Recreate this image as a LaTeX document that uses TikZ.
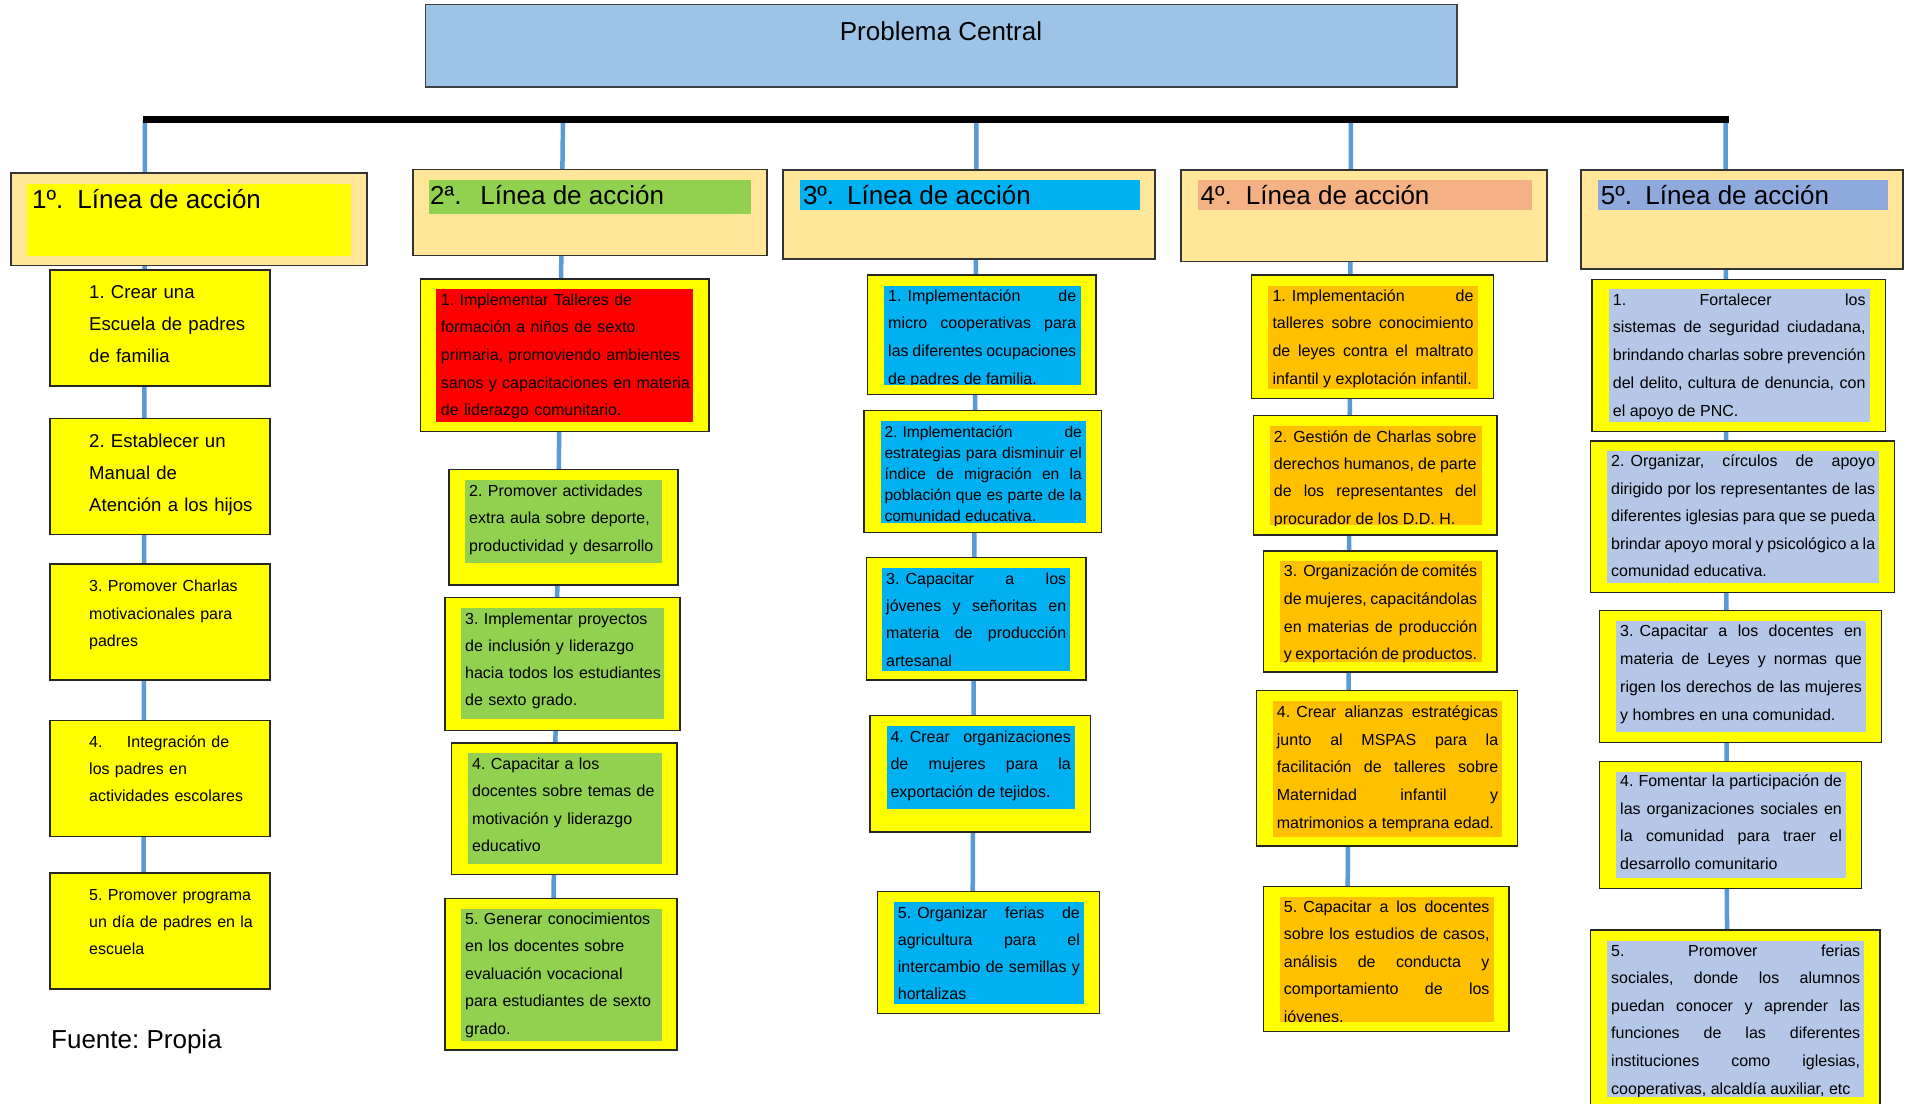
\documentclass[tikz,border=0pt]{standalone}
\usepackage{fontspec}
\setmainfont{Liberation Sans}
\usetikzlibrary{fit}
\frenchspacing
\definecolor{cenblue}{HTML}{9DC3E6}
\definecolor{secfill}{HTML}{FFE699}
\definecolor{linkblue}{HTML}{5B9BD5}
\definecolor{ygreen}{HTML}{92D050}
\definecolor{ccyan}{HTML}{00B0F0}
\definecolor{salmonf}{HTML}{F4B183}
\definecolor{bluef}{HTML}{8EA9DB}
\definecolor{orangef}{HTML}{FFC000}
\definecolor{lavf}{HTML}{B4C7E7}
\definecolor{yelf}{HTML}{FFFF00}
\definecolor{redf}{HTML}{FF0000}
\newcommand\jset{\frenchspacing\hyphenpenalty=10000 \exhyphenpenalty=10000 \spaceskip=0.278em plus 30em minus 0.2em\relax}
\newcommand\itm[9]{%
  \node[obox, fit={(#2)(#3)}] (#1) {};
  \node[hlbox=#4, fit={(#5)(#6)}] (#1h) {};
  \begin{scope}
    \clip (#5) rectangle (#6);
    \node[#8] (#1t) at (#7) {#9};
  \end{scope}}
\tikzset{
  obox/.style={draw=black!85, line width=1.3bp, fill=yelf, inner sep=0pt},
  sbox/.style={draw=black!80, line width=1.3bp, fill=secfill, inner sep=0pt},
  cbox/.style={draw=black!75, line width=1.3bp, fill=cenblue, inner sep=0pt},
  hlbox/.style={fill=#1, draw=none, inner sep=0pt},
  conn/.style={draw=linkblue, line width=4.5bp},
  ttl/.style={anchor=base west, inner sep=0pt, font=\fontsize{26bp}{30bp}\selectfont\frenchspacing},
  jt/.style n args={3}{anchor=base west, inner sep=0pt, align=justify, text width=#1, font=\fontsize{#2}{#3}\selectfont\jset},
  rt/.style n args={2}{anchor=base west, inner sep=0pt, align=left, text width=330bp, font=\fontsize{#1}{#2}\selectfont\frenchspacing},
}
\begin{document}
\begin{tikzpicture}[x=1bp,y=-1bp]
\useasboundingbox (0,0) rectangle (1908,1103);
\fill[white] (0,0) rectangle (1908,1103);
% connectors (behind boxes)
\coordinate (t1) at (145,119.5); \coordinate (e1) at (143.5,873);
\coordinate (t2) at (563,119.5); \coordinate (e2) at (553.5,899);
\coordinate (t3) at (976.5,119.5); \coordinate (e3) at (972.7,892);
\coordinate (t4) at (1351,119.5); \coordinate (e4) at (1347.7,886);
\coordinate (t5) at (1725.5,119.5); \coordinate (e5) at (1727,930);
\draw[conn] (t1) -- (e1);
\draw[conn] (t2) -- (e2);
\draw[conn] (t3) -- (e3);
\draw[conn] (t4) -- (e4);
\draw[conn] (t5) -- (e5);
% bar
\coordinate (bl) at (143,119.5); \coordinate (br) at (1729,119.5);
\draw[line width=7.6bp] (bl) -- (br);
% central problem
\node[cbox, fit={(425.6,4.7)(1457,87)}] (pc) {};
\node[anchor=base, inner sep=0pt, font=\fontsize{26bp}{30bp}\selectfont] (pct) at (941,40) {Problema Central};
% section headers
\node[sbox, fit={(11,173)(367,265.7)}] (s1) {};
\node[hlbox=yelf, fit={(27,184)(351,255.7)}] (s1h) {};
\node[ttl] (s1t) at (32,208) {1º.\hspace{14bp}Línea de acción};
\node[sbox, fit={(413,169.7)(767,255.7)}] (s2) {};
\node[hlbox=ygreen, fit={(429,180)(751,213.7)}] (s2h) {};
\node[ttl] (s2t) at (430,204) {2ª.\hspace{19bp}Línea de acción};
\node[sbox, fit={(783,170)(1155,259)}] (s3) {};
\node[hlbox=ccyan, fit={(800,180)(1140,210)}] (s3h) {};
\node[ttl] (s3t) at (802.8,204) {3º.\hspace{13bp}Línea de acción};
\node[sbox, fit={(1181,170)(1547,261.7)}] (s4) {};
\node[hlbox=salmonf, fit={(1198,180)(1532,210)}] (s4h) {};
\node[ttl] (s4t) at (1200.5,204) {4º.\hspace{14bp}Línea de acción};
\node[sbox, fit={(1581,170)(1903,269)}] (s5) {};
\node[hlbox=bluef, fit={(1598,180)(1888,210)}] (s5h) {};
\node[ttl] (s5t) at (1600.6,204) {5º.\hspace{13.5bp}Línea de acción};
% column 1
\node[obox, fit={(50,270)(270,386)}] (c1b1) {};
\node[rt={18.6bp}{32bp}] (c1b1t) at (89,298.3) {1. Crear una\\Escuela de padres\\de familia};
\node[obox, fit={(50,418.7)(270,534.7)}] (c1b2) {};
\node[rt={18.6bp}{32bp}] (c1b2t) at (89,447.3) {2. Establecer un\\Manual de\\Atención a los hijos};
\node[obox, fit={(50,564)(270,680)}] (c1b3) {};
\node[rt={16bp}{27.3bp}] (c1b3t) at (89,591.7) {3. Promover Charlas\\motivacionales para\\padres};
\node[obox, fit={(50,720.7)(270,836.7)}] (c1b4) {};
\node[rt={16bp}{27.3bp}] (c1b4t) at (89,747.3) {4.\hspace{24.4bp}Integración de\\los padres en\\actividades escolares};
\node[obox, fit={(50,873)(270,989)}] (c1b5) {};
\node[rt={16bp}{27.3bp}] (c1b5t) at (89,900) {5. Promover programa\\un día de padres en la\\escuela};
% column 2
\itm{c2b1}{420.7,279}{709,431.7}{redf}{436,289}{693,422}{440.7,305}{rt={16bp}{27.7bp}}{1. Implementar Talleres de\\formación a niños de sexto\\primaria, promoviendo ambientes\\sanos y capacitaciones en materia\\de liderazgo comunitario.}
\itm{c2b2}{449,469.7}{678,585}{ygreen}{465,480}{662,562.7}{469,496}{rt={16bp}{27.5bp}}{2. Promover actividades\\extra aula sobre deporte,\\productividad y desarrollo}
\itm{c2b3}{445,597.7}{680,730.7}{ygreen}{461,608}{664,718.7}{465,624}{rt={16bp}{27.3bp}}{3. Implementar proyectos\\de inclusión y liderazgo\\hacia todos los estudiantes\\de sexto grado.}
\itm{c2b4}{451.7,743}{677,874.7}{ygreen}{468,753}{662,863.7}{472,769}{rt={16bp}{27.6bp}}{4. Capacitar a los\\docentes sobre temas de\\motivación y liderazgo\\educativo}
\itm{c2b5}{445,898.7}{677,1050}{ygreen}{461,909}{662,1040.7}{465,924}{rt={16bp}{27.5bp}}{5. Generar conocimientos\\en los docentes sobre\\evaluación vocacional\\para estudiantes de sexto\\grado.}
% column 3
\itm{c3b1}{867.7,275}{1096,394.7}{ccyan}{884,286}{1081,384.7}{888,301.3}{jt={188bp}{16bp}{27.6bp}}{1.\hspace{6bp}Implementación de\linebreak micro cooperativas para\linebreak las diferentes ocupaciones\linebreak de padres de familia.}
\itm{c3b2}{864,410.7}{1101.7,532.7}{ccyan}{881,421.3}{1085.7,522.7}{884.3,437.3}{jt={197.4bp}{15.6bp}{21bp}}{2.\hspace{5bp}Implementación de\linebreak estrategias para disminuir el\linebreak índice de migración en la\linebreak población que es parte de la\linebreak comunidad educativa.}
\itm{c3b3}{866.3,557.7}{1086,680}{ccyan}{882,568}{1070,670.7}{886,584}{jt={180bp}{16bp}{27.4bp}}{3.\hspace{6bp}Capacitar a los\linebreak jóvenes y señoritas en\linebreak materia de producción\linebreak artesanal}
\itm{c3b4}{870,715.7}{1090.3,832}{ccyan}{887,726}{1075,808.7}{890.3,742}{jt={180.4bp}{16bp}{27.5bp}}{4.\hspace{6bp}Crear organizaciones\linebreak de mujeres para la\linebreak exportación de tejidos.}
\itm{c3b5}{877.7,891.7}{1099.7,1013.3}{ccyan}{894,902}{1084,1004}{897.7,918.3}{jt={182bp}{16bp}{27.2bp}}{5.\hspace{6bp}Organizar ferias de\linebreak agricultura para el\linebreak intercambio de semillas y\linebreak hortalizas}
% column 4
\itm{c4b1}{1251.7,275}{1493.7,398.7}{orangef}{1268,286}{1478,388.7}{1272.3,301.3}{jt={201bp}{16bp}{27.6bp}}{1.\hspace{6bp}Implementación de\linebreak talleres sobre conocimiento\linebreak de leyes contra el maltrato\linebreak infantil y explotación infantil.}
\itm{c4b2}{1253.7,415.3}{1497,535}{orangef}{1270,426}{1481.7,525}{1273.7,442}{jt={202.6bp}{16bp}{27.4bp}}{2.\hspace{6bp}Gestión de Charlas sobre\linebreak derechos humanos, de parte\linebreak de los representantes del\linebreak procurador de los D.D. H.}
\itm{c4b3}{1263.7,551}{1497,672}{orangef}{1280,561.3}{1482,662}{1283.7,576.7}{jt={193.3bp}{16bp}{27.7bp}}{3.\hspace{6bp}Organización de comités\linebreak de mujeres, capacitándolas\linebreak en materias de producción\linebreak y exportación de productos.}
\itm{c4b4}{1256.3,690.7}{1517.7,846}{orangef}{1273,701}{1502,836.7}{1276.7,717.3}{jt={221.3bp}{16bp}{27.7bp}}{4.\hspace{6bp}Crear alianzas estratégicas\linebreak junto al MSPAS para la\linebreak facilitación de talleres sobre\linebreak Maternidad infantil y\linebreak matrimonios a temprana edad.}
\itm{c4b5}{1263.7,886.3}{1509,1031.7}{orangef}{1280,897}{1494,1021.7}{1283.7,912}{jt={205.6bp}{16bp}{27.6bp}}{5.\hspace{6bp}Capacitar a los docentes\linebreak sobre los estudios de casos,\linebreak análisis de conducta y\linebreak comportamiento de los\linebreak jóvenes.}
% column 5
\itm{c5b1}{1592,279.3}{1885.3,431.7}{lavf}{1609.3,289.3}{1869.7,421.7}{1612.7,305}{jt={252.6bp}{16bp}{27.75bp}}{1. Fortalecer los\linebreak sistemas de seguridad ciudadana,\linebreak brindando charlas sobre prevención\linebreak del delito, cultura de denuncia, con\linebreak el apoyo de PNC.}
\itm{c5b2}{1590.7,441}{1894.7,592.3}{lavf}{1607,451.3}{1879,582.7}{1611,466.7}{jt={264bp}{16bp}{27.5bp}}{2.\hspace{6bp}Organizar, círculos de apoyo\linebreak dirigido por los representantes de las\linebreak diferentes iglesias para que se pueda\linebreak brindar apoyo moral y psicológico a la\linebreak comunidad educativa.}
\itm{c5b3}{1599.3,610.7}{1881.7,742.7}{lavf}{1616,621}{1866,731.7}{1620,636.7}{jt={241.7bp}{16bp}{27.8bp}}{3.\hspace{6bp}Capacitar a los docentes en\linebreak materia de Leyes y normas que\linebreak rigen los derechos de las mujeres\linebreak y hombres en una comunidad.}
\itm{c5b4}{1599.3,761.3}{1861.3,888.3}{lavf}{1616,772}{1846,877.7}{1620,786.7}{jt={221.7bp}{16bp}{27.5bp}}{4.\hspace{5bp}Fomentar la participación de\linebreak las organizaciones sociales en\linebreak la comunidad para traer el\linebreak desarrollo comunitario}
\itm{c5b5}{1590.7,930}{1880,1125}{lavf}{1607,941.3}{1864,1096.7}{1611,956}{jt={249bp}{16bp}{27.6bp}}{5. Promover ferias\linebreak sociales, donde los alumnos\linebreak puedan conocer y aprender las\linebreak funciones de las diferentes\linebreak instituciones como iglesias,\linebreak cooperativas, alcaldía auxiliar, etc}
% source
\node[anchor=base west, inner sep=0pt, font=\fontsize{26bp}{30bp}\selectfont\frenchspacing] (src) at (51,1048) {Fuente: Propia};
\end{tikzpicture}
\end{document}
